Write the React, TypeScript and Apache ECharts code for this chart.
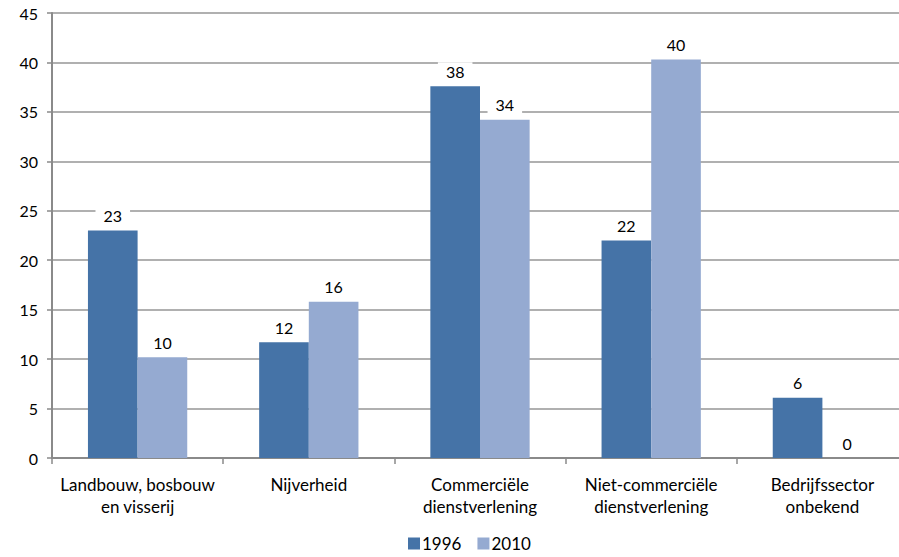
import React, { useEffect, useRef } from "react";
import * as echarts from "echarts";

const categories = [
  "Landbouw, bosbouw\nen visserij",
  "Nijverheid",
  "Commerciële\ndienstverlening",
  "Niet-commerciële\ndienstverlening",
  "Bedrijfssector\nonbekend",
];
const values1996 = [23.0, 11.7, 37.6, 22.0, 6.1];
const values2010 = [10.2, 15.8, 34.2, 40.3, 0];
const seriesNames = ["1996", "2010"];
const colors = ["#4573A7", "#95AAD1"];

export default function App() {
  const ref = useRef<HTMLDivElement>(null);
  useEffect(() => {
    if (!ref.current) return;
    const chart = echarts.init(ref.current, null, { renderer: "svg" });
    const font = "Lato, 'Open Sans', sans-serif";
    const label = {
      show: true,
      position: "top" as const,
      distance: 6,
      color: "#000",
      fontFamily: font,
      fontSize: 16,
      backgroundColor: "#fff",
      padding: [1, 8, 1, 8],
      formatter: (p: any) => String(Math.round(p.value)),
    };
    chart.setOption({
      animation: false,
      textStyle: { fontFamily: font },
      grid: { left: 52, top: 13, width: 856, bottom: 99, outerBoundsMode: "none", containLabel: false },
      legend: {
        data: seriesNames,
        left: 408,
        top: 535,
        padding: 0,
        itemWidth: 12,
        itemHeight: 12,
        itemGap: 16,
        textStyle: { fontSize: 17, color: "#000", fontFamily: font, padding: [0, 0, 0, -3] },
        icon: "rect",
      },
      xAxis: {
        type: "category",
        data: categories,
        axisLine: { lineStyle: { color: "#8a8a8a", width: 2 } },
        axisTick: { show: true, length: 6, lineStyle: { color: "#8a8a8a", width: 1.5 } },
        axisLabel: { color: "#000", fontSize: 17, fontFamily: font, margin: 15, lineHeight: 22, interval: 0 },
      },
      yAxis: {
        type: "value",
        min: 0,
        max: 45,
        interval: 5,
        axisLine: { show: true, lineStyle: { color: "#8a8a8a", width: 2 } },
        axisTick: { show: true, length: 5, lineStyle: { color: "#8a8a8a", width: 1.5 } },
        axisLabel: { color: "#000", fontSize: 16, fontFamily: font, margin: 14 },
        splitLine: { lineStyle: { color: "#969696", width: 1.5 } },
      },
      series: [
        {
          name: seriesNames[0],
          type: "bar",
          data: values1996,
          itemStyle: { color: colors[0] },
          barGap: "0%",
          barCategoryGap: "42%",
          label,
        },
        {
          name: seriesNames[1],
          type: "bar",
          data: values2010,
          itemStyle: { color: colors[1] },
          barGap: "0%",
          barCategoryGap: "42%",
          label,
        },
      ],
    });
    return () => chart.dispose();
  }, []);
  return (
    <div
      ref={ref}
      style={{ position: "absolute", left: 0, top: 0, width: 899, height: 557, background: "#fff" }}
    />
  );
}
